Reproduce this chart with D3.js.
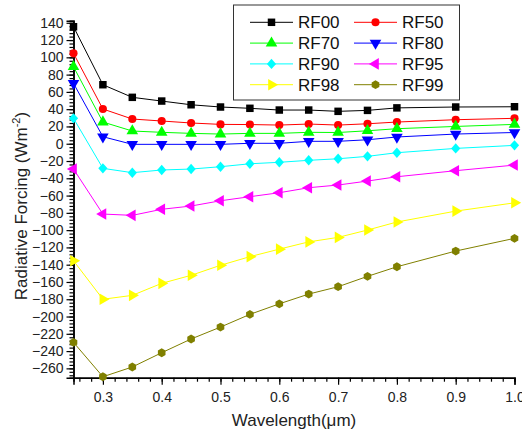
<!DOCTYPE html>
<html>
<head>
<meta charset="utf-8">
<script src="https://d3js.org/d3.v7.min.js"></script>
<style>
  body { margin: 0; background: #fff; }
  svg { font-family: "Liberation Sans", Arial, sans-serif; }
</style>
</head>
<body>
<svg width="522" height="435"></svg>
<script>
// wavelengths (um)
var wavelength = [0.25, 0.3, 0.35, 0.4, 0.45, 0.5, 0.55, 0.6, 0.65, 0.7, 0.75, 0.8, 0.9, 1.0];

var RF00 = [135.4, 68.3, 53.7, 49.4, 45.1, 42.5, 41, 39, 39, 37.5, 38.6, 41.5, 42.5, 42.8];
var RF50 = [104.6, 40.2, 28.6, 26.3, 24, 22.4, 22.2, 21.6, 22.8, 21.6, 23.1, 25.1, 27.8, 29.4];
var RF70 = [89.1, 25.1, 14.7, 13.2, 12, 11.2, 12, 12, 13.2, 13, 15, 17.4, 20, 22.4];
var RF80 = [69.9, 8.1, -0.7, -0.7, -0.7, -0.7, 0.5, 0.5, 2.8, 2.8, 4.6, 7.8, 11.2, 13];
var RF90 = [29.4, -28.5, -33.5, -30.4, -29.3, -26.6, -23.2, -21.5, -19.2, -17.4, -14.6, -10.4, -5.4, -1.9];
var RF95 = [-29.3, -81.4, -82.9, -75.9, -72.1, -66, -61.3, -56.7, -50.9, -47.8, -43.2, -38.2, -31.2, -24.7];
var RF98 = [-135.4, -180, -175.5, -161.6, -152.3, -140.7, -130.7, -122, -113.6, -108.4, -99.9, -90.6, -78, -68.4];
var RF99 = [-229.9, -269.7, -258.4, -241.9, -226, -212.2, -197.5, -185.3, -174, -165.5, -153.5, -142.4, -124.2, -109.5];

var seriesNames = ["RF00", "RF50", "RF70", "RF80", "RF90", "RF95", "RF98", "RF99"];
var seriesValues = [RF00, RF50, RF70, RF80, RF90, RF95, RF98, RF99];
var seriesColors = ["#000000", "#ff0000", "#00ff00", "#0000ff", "#00ffff", "#ff00ff", "#ffff00", "#808000"];
var seriesMarkers = ["square", "circle", "up", "down", "diamond", "left", "right", "hexagon"];

var xTicks = [0.3, 0.4, 0.5, 0.6, 0.7, 0.8, 0.9, 1.0];
var yTicks = d3.range(-260, 141, 20);

var svg = d3.select("svg");
var plotLeft = 73.5, plotRight = 514.5, plotTop = 20.7, plotBottom = 377.7;

var x = d3.scaleLinear().domain([0.25, 1.0]).range([plotLeft, plotRight]);
var y = d3.scaleLinear().domain([-270.8, 142.4]).range([plotBottom, plotTop]);

function markerPath(type) {
  if (type === "square") return d3.symbol(d3.symbolSquare, 56)();
  if (type === "circle") return d3.symbol(d3.symbolCircle, 52)();
  if (type === "diamond") return "M0,-5.2L4.6,0L0,5.2L-4.6,0Z";
  if (type === "hexagon") {
    var r = 4.4, pts = [];
    for (var i = 0; i < 6; i++) {
      var a = Math.PI / 6 + i * Math.PI / 3;
      pts.push([r * Math.cos(a), r * Math.sin(a)]);
    }
    return "M" + pts.join("L") + "Z";
  }
  return d3.symbol(d3.symbolTriangle, 58)();
}
function markerRot(type) {
  return { down: 180, left: -90, right: 90 }[type] || 0;
}

// axes
var xAxis = svg.append("g").attr("transform", "translate(0," + plotBottom + ")");
xAxis.call(d3.axisBottom(x).tickValues(d3.range(0.26, 1.0001, 0.02)).tickSize(4).tickFormat(""));
xAxis.append("g").call(d3.axisBottom(x).tickValues(xTicks).tickSize(7).tickFormat(d3.format(".1f")));
xAxis.selectAll("text").attr("font-size", 14).attr("fill", "#222").attr("font-family", "Liberation Sans, Arial, sans-serif").attr("dy", "1em");

var yAxis = svg.append("g").attr("transform", "translate(" + plotLeft + ",0)");
yAxis.call(d3.axisLeft(y).tickValues(d3.range(-268, 142, 4)).tickSize(4).tickFormat(""));
yAxis.append("g").call(d3.axisLeft(y).tickValues(yTicks).tickSize(7).tickFormat(d3.format("d")));
yAxis.selectAll("text").attr("font-size", 14).attr("fill", "#222").attr("font-family", "Liberation Sans, Arial, sans-serif").attr("x", -10);

svg.selectAll(".domain").attr("stroke-width", 1.5);
svg.selectAll(".tick line").attr("stroke-width", 1.2);

// series
var line = d3.line().x(function(d) { return x(d[0]); }).y(function(d) { return y(d[1]); });

seriesValues.forEach(function(vals, i) {
  var pts = wavelength.map(function(w, j) { return [w, vals[j]]; });
  var g = svg.append("g");
  g.append("path")
    .attr("d", line(pts))
    .attr("fill", "none")
    .attr("stroke", seriesColors[i])
    .attr("stroke-width", 1);
  g.selectAll("path.m").data(pts).enter().append("path")
    .attr("class", "m")
    .attr("d", markerPath(seriesMarkers[i]))
    .attr("transform", function(d) {
      return "translate(" + x(d[0]) + "," + y(d[1]) + ") rotate(" + markerRot(seriesMarkers[i]) + ")";
    })
    .attr("fill", seriesColors[i]);
});

// titles
svg.append("text")
  .attr("x", (plotLeft + plotRight) / 2).attr("y", 426)
  .attr("text-anchor", "middle").attr("font-size", 17).attr("fill", "#222")
  .text("Wavelength(\u03bcm)");

var yt = svg.append("text")
  .attr("transform", "translate(27,206) rotate(-90)")
  .attr("text-anchor", "middle").attr("font-size", 17).attr("fill", "#222");
yt.append("tspan").text("Radiative Forcing (Wm");
yt.append("tspan").attr("font-size", 11).attr("dy", -7).text("-2");
yt.append("tspan").attr("dy", 7).text(")");

// legend
var lg = svg.append("g");
lg.append("rect").attr("x", 233.5).attr("y", 5).attr("width", 226).attr("height", 95)
  .attr("fill", "#fff").attr("stroke", "#333").attr("stroke-width", 1);
seriesNames.forEach(function(name, i) {
  var col = i % 2, row = Math.floor(i / 2);
  var lx = col === 0 ? 250 : 354;
  var ly = 22.3 + row * 20.8;
  lg.append("line").attr("x1", lx).attr("x2", lx + 43).attr("y1", ly).attr("y2", ly)
    .attr("stroke", seriesColors[i]).attr("stroke-width", 1);
  lg.append("path").attr("d", markerPath(seriesMarkers[i]))
    .attr("transform", "translate(" + (lx + 21.5) + "," + ly + ") rotate(" + markerRot(seriesMarkers[i]) + ")")
    .attr("fill", seriesColors[i]);
  lg.append("text").attr("x", lx + 48).attr("y", ly + 6).attr("font-size", 17).attr("fill", "#111")
    .text(name);
});
</script>
</body>
</html>
